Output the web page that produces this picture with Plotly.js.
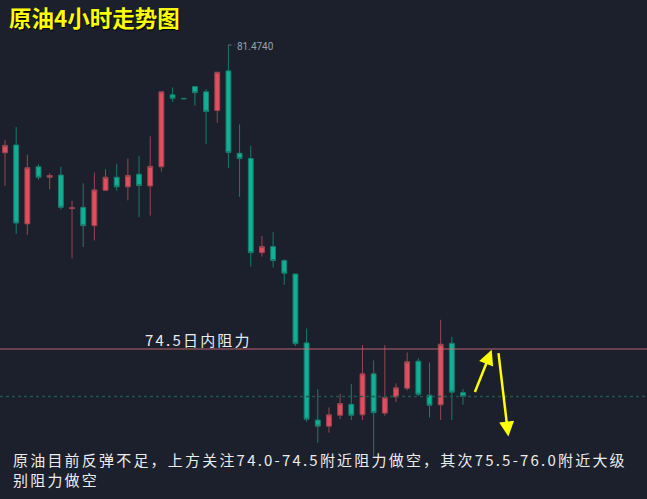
<!DOCTYPE html>
<html>
<head>
<meta charset="utf-8">
<script src="https://cdn.plot.ly/plotly-3.0.1.min.js"></script>
<style>
html,body{margin:0;padding:0;background:#1b202c;}
#chart{width:647px;height:499px;}
g.annotation[data-index="0"] text,
g.annotation[data-index="1"] text,
g.annotation[data-index="2"] text{letter-spacing:2.2px;}
</style>
</head>
<body>
<div id="chart"></div>
<script>
// 4-hour crude oil candles
const openP  = [79.00,79.18,77.37,78.68,78.44,78.49,77.72,77.75,77.33,78.14,78.44,78.22,78.51,78.24,78.68,80.33,80.25,80.52,80.40,79.97,80.88,78.99,78.87,76.71,76.85,76.53,76.22,74.64,72.87,72.73,72.98,73.23,72.99,73.93,73.03,73.40,73.60,74.22,73.44,73.22,74.63,73.50];
const highP  = [79.29,79.59,78.96,78.74,78.53,78.68,77.90,78.30,78.55,78.62,78.75,78.87,78.93,79.38,80.41,80.50,80.25,80.52,80.46,80.85,81.474,79.65,79.16,77.09,77.18,76.56,76.22,74.97,73.58,73.16,73.47,73.70,74.59,74.24,74.59,73.71,74.42,74.29,74.19,75.17,74.78,73.58];
const lowP   = [78.24,77.14,77.12,78.38,78.16,77.70,76.58,76.84,76.99,78.12,78.13,77.91,77.53,77.56,78.57,80.17,80.23,80.08,79.20,79.69,78.65,77.99,76.39,76.62,76.37,75.97,74.57,72.83,72.35,72.58,72.89,72.87,72.87,72.05,72.97,73.28,73.55,73.42,72.93,72.87,72.87,73.22];
const closeP = [79.17,77.39,78.66,78.44,78.48,77.75,77.74,77.33,78.15,78.44,78.22,78.48,78.25,78.69,80.40,80.25,80.24,80.38,79.95,80.85,79.01,78.87,76.71,76.85,76.53,76.24,74.62,72.89,72.73,72.99,73.25,72.98,73.93,73.04,73.39,73.61,74.21,73.46,73.21,74.61,73.51,73.41];

const titleText = '原油4小时走势图';
const resistLevel = 74.5;
const resistLabel = '74.5日内阻力';
const noteLine1 = '原油目前反弹不足，上方关注74.0-74.5附近阻力做空，其次75.5-76.0附近大级';
const noteLine2 = '别阻力做空';

const idx = openP.map((_, i) => i);
const lastClose = closeP[closeP.length - 1];
const maxHigh = Math.max(...highP);
const maxIdx = highP.indexOf(maxHigh);

const trace = {
  type: 'candlestick',
  x: idx, open: openP, high: highP, low: lowP, close: closeP,
  increasing: {line: {color: '#9a4450', width: 1}, fillcolor: '#e14f5e'},
  decreasing: {line: {color: '#177d6d', width: 1}, fillcolor: '#11b096'},
  whiskerwidth: 0,
  hoverinfo: 'skip'
};

const txtFont = {family: '"Noto Sans CJK SC", "Noto Sans", sans-serif', size: 15, color: '#ececec'};

const layout = {
  width: 647, height: 499,
  margin: {l: 0, r: 0, t: 0, b: 0},
  paper_bgcolor: '#1b202c', plot_bgcolor: '#1b202c',
  showlegend: false,
  boxgap: 0.38,
  xaxis: {range: [-0.448, 57.47], visible: false, rangeslider: {visible: false}, fixedrange: true},
  yaxis: {range: [71.059, 82.506], visible: false, fixedrange: true},
  title: {
    text: '<b>' + titleText + '</b>',
    x: 0.014, xanchor: 'left', xref: 'paper',
    y: 0.961, yanchor: 'middle', yref: 'container',
    font: {family: '"Noto Sans CJK SC", sans-serif', size: 22.5, color: '#ffff00', shadow: '1px 1px 1px #000'}
  },
  shapes: [
    {type: 'line', xref: 'paper', x0: 0, x1: 1, yref: 'y', y0: resistLevel, y1: resistLevel,
     line: {color: 'rgba(205,105,115,0.9)', width: 1.2}},
    {type: 'line', xref: 'paper', x0: 0, x1: 1, yref: 'y', y0: lastClose, y1: lastClose,
     line: {color: '#1f5750', width: 1.5, dash: 'dot'}},
    {type: 'line', xref: 'x', x0: maxIdx, x1: maxIdx + 0.6, yref: 'y', y0: maxHigh, y1: maxHigh,
     line: {color: '#6d7480', width: 1, dash: 'dot'}}
  ],
  annotations: [
    {xref: 'paper', yref: 'paper', x: 0.2210, y: 0.3206, xanchor: 'left', yanchor: 'middle', align: 'left',
     text: resistLabel, showarrow: false, font: txtFont},
    {xref: 'paper', yref: 'paper', x: 0.0165, y: 0.0782, xanchor: 'left', yanchor: 'middle', align: 'left',
     text: noteLine1, showarrow: false, font: txtFont},
    {xref: 'paper', yref: 'paper', x: 0.0165, y: 0.0381, xanchor: 'left', yanchor: 'middle', align: 'left',
     text: noteLine2, showarrow: false, font: txtFont},
    {xref: 'x', yref: 'y', x: maxIdx, y: maxHigh, xanchor: 'left', yanchor: 'middle', xshift: 7, yshift: -2,
     text: maxHigh.toFixed(4), showarrow: false,
     font: {family: 'Roboto, "Noto Sans", sans-serif', size: 10, color: '#9aa0ab'}},
    {xref: 'x', yref: 'y', axref: 'x', ayref: 'y', x: 43.57, y: 74.48, ax: 42.01, ay: 73.48,
     text: '', showarrow: true, arrowhead: 2, arrowsize: 1.2, arrowwidth: 2.5, arrowcolor: '#ffff00', standoff: 0},
    {xref: 'x', yref: 'y', axref: 'x', ayref: 'y', x: 45.06, y: 72.49, ax: 44.16, ay: 74.44,
     text: '', showarrow: true, arrowhead: 2, arrowsize: 1.2, arrowwidth: 2.5, arrowcolor: '#ffff00', standoff: 0}
  ]
};

Plotly.newPlot('chart', [trace], layout, {staticPlot: true, displayModeBar: false});
</script>
</body>
</html>
